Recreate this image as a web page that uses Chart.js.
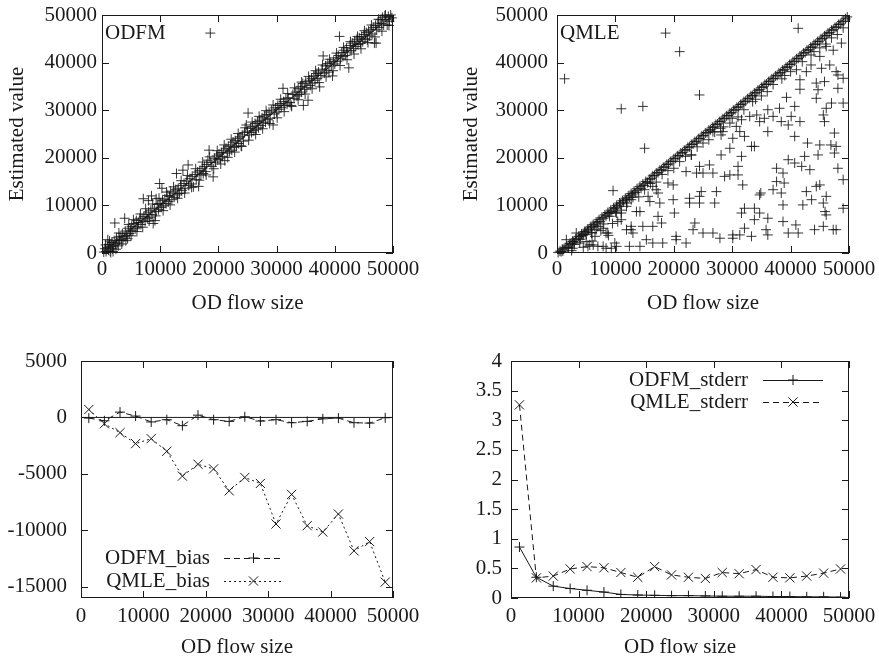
<!DOCTYPE html>
<html>
<head>
<meta charset="utf-8">
<script src="https://cdn.jsdelivr.net/npm/chart.js@4.4.1/dist/chart.umd.min.js"></script>
<style>
  html, body { margin: 0; padding: 0; background: #fff; }
  #wrap { position: relative; width: 879px; height: 658px; }
  canvas { position: absolute; }
</style>
</head>
<body>
<div id="wrap">
  <canvas id="odfmScatter" width="440" height="320" style="left:0;top:0"></canvas>
  <canvas id="qmleScatter" width="439" height="320" style="left:440px;top:0"></canvas>
  <canvas id="biasChart" width="440" height="338" style="left:0;top:320px"></canvas>
  <canvas id="stderrChart" width="439" height="338" style="left:440px;top:320px"></canvas>
</div>
<script>
// tick labels
const flowTicks = [0, 10000, 20000, 30000, 40000, 50000];
const estTicks = [0, 10000, 20000, 30000, 40000, 50000];
const biasTicks = [-15000, -10000, -5000, 0, 5000];
const stderrTicks = [0, 0.5, 1, 1.5, 2, 2.5, 3, 3.5, 4];

// binned results (bottom panels)
const binFlow = [1250, 3750, 6250, 8750, 11250, 13750, 16250, 18750, 21250, 23750,
  26250, 28750, 31250, 33750, 36250, 38750, 41250, 43750, 46250, 48750];
const odfmBias = [-60, -300, 470, 120, -400, -200, -730, 200, -200, -350,
  60, -320, -200, -470, -350, -120, -60, -470, -500, -30];
const qmleBias = [700, -560, -1350, -2320, -1880, -3000, -5200, -4150, -4560, -6500,
  -5320, -5850, -9440, -6820, -9590, -10150, -8560, -11820, -11000, -14590];
const odfmStderr = [0.86, 0.35, 0.2, 0.16, 0.13, 0.1, 0.06, 0.05, 0.045, 0.04,
  0.04, 0.035, 0.03, 0.03, 0.03, 0.025, 0.025, 0.02, 0.02, 0.015];
const qmleStderr = [3.26, 0.34, 0.37, 0.49, 0.53, 0.51, 0.43, 0.35, 0.53, 0.39,
  0.35, 0.33, 0.43, 0.41, 0.48, 0.35, 0.34, 0.37, 0.42, 0.49];

// OD flow size vs estimated value, ODFM
const odfmPoints = [
  [300,200],[500,900],[700,300],[900,1200],[1000,2800],[1100,600],[1200,1800],[1400,400],[1500,1300],[1500,100],
  [1700,2200],[1800,900],[2000,1500],[2100,2600],[2200,6300],[2300,1900],[2500,3200],[2600,2100],[2800,1500],[3000,2700],
  [3100,3500],[3300,2900],[3500,4100],[3600,2600],[3800,3400],[3900,7300],[4000,4600],[4200,3700],[4400,3000],[4500,5200],
  [4700,4100],[4900,4800],[5100,5600],[5300,4600],[5500,6200],[5700,5100],[5900,6800],[6100,5500],[6300,6400],[6500,7300],
  [6700,6000],[6900,6900],[7100,11400],[7200,7700],[7400,6600],[7600,8100],[7800,7200],[8000,8600],[8000,11000],[8200,7500],
  [8400,9000],[8500,12000],[8600,8100],[8800,6200],[9000,9400],[9100,6800],[9300,8700],[9300,11400],[9500,10200],[9700,9100],
  [9900,14600],[10000,10400],[10200,9600],[10300,13600],[10400,11000],[10600,9900],[10800,11300],[11000,10400],[11200,12100],[11400,10800],
  [11600,11900],[11800,13000],[12000,11200],[12200,12600],[12400,11700],[12600,13300],[12800,16700],[12900,12200],[13100,13600],[13300,12500],
  [13500,14200],[13700,13100],[13900,17400],[14100,14600],[14300,13500],[14500,15100],[14800,18500],[14900,14200],[15100,15600],[15300,14500],
  [15500,16100],[15700,13900],[16000,16500],[16200,15400],[16400,17000],[16600,14000],[16800,17300],[17000,16400],[17200,17800],[17400,16700],
  [17600,18200],[17800,17100],[18000,18600],[18200,19500],[18400,21600],[18600,46200],[18700,19000],[18900,18200],[19100,16000],[19300,19900],
  [19500,19100],[19700,20400],[19900,19600],[20100,20800],[20300,19800],[20500,21100],[20700,20300],[20900,21600],[21100,19400],[21300,22000],
  [21500,21000],[21700,22400],[21900,21300],[22100,22700],[22300,21600],[22500,23300],[22700,22200],[22900,23600],[23100,22400],[23300,24100],
  [23500,23000],[23700,24400],[23900,22500],[24100,24800],[24300,23500],[24500,25300],[24800,26900],[25000,25600],[25100,29400],[25300,24800],
  [25500,26200],[25700,25300],[25900,26600],[26100,25700],[26300,27200],[26500,26000],[26700,27600],[26900,26300],[27100,27900],[27300,26800],
  [27500,28400],[27700,27300],[27900,28800],[28100,27500],[28300,29100],[28500,28000],[28700,29600],[28900,28300],[29100,30000],[29400,26900],
  [29600,29200],[29800,30500],[30000,29600],[30200,31000],[30400,30200],[30600,31400],[30800,30600],[31100,34600],[31200,31800],[31400,31000],
  [31600,32400],[31800,31300],[32000,32600],[32300,31600],[32600,30800],[32800,33300],[33000,32500],[33300,33800],[33500,33000],[33700,34500],
  [33900,33300],[34100,35000],[34300,33800],[34500,35600],[34600,31000],[34800,34400],[35000,36000],[35200,34800],[35400,32100],[35600,36300],
  [35800,35200],[36000,36700],[36200,35700],[36400,37200],[36600,36300],[36800,37700],[37000,36700],[37200,38000],[37400,34900],[37600,37300],
  [37800,38600],[38000,41400],[38200,37800],[38400,39300],[38600,38400],[38800,39800],[39000,38000],[39200,40100],[39400,39300],[39600,37200],
  [39800,40300],[40000,39700],[40200,41000],[40400,40300],[40600,41500],[40800,45500],[41000,40800],[41200,42100],[41400,41300],[41600,42600],
  [41800,41500],[42000,43100],[42200,42200],[42400,38900],[42600,43600],[42800,42500],[43000,44100],[43200,43000],[43400,44500],[43600,43400],
  [43800,44900],[44000,43800],[44200,45200],[44400,44000],[44600,45500],[44800,44400],[45000,45900],[45200,45000],[45400,46300],[45600,44800],
  [45800,46600],[46000,45600],[46200,47000],[46400,46000],[46600,47400],[46800,44100],[47000,47800],[47100,44100],[47200,46900],[47400,48300],
  [47600,47400],[47800,49000],[48000,48200],[48200,49500],[48400,47900],[48600,49800],[48800,49100],[49000,47900],[49200,49700],[49400,48700],
  [49600,50000],[49800,49400],
  [600,1700],[1300,2500],[1900,300],[2400,800],[2900,4200],[3400,1900],[4100,2600],[4600,6000],[5000,3600],[5400,7000],
  [6000,4500],[6600,8200],[7000,5400],[7500,9300],[8100,6700],[8700,10300],[9200,7800],[9800,11500],[10500,8900],[11100,12800],
  [11700,10100],[12300,13900],[13000,11500],[13600,15200],[14200,12600],[14700,16300],[15400,13800],[16100,17700],[16700,15300],[17300,19100],
  [17900,16400],[18500,20200],[19200,17700],[19800,21500],[20400,18700],[21000,22700],[21600,20100],[22200,23900],[22800,21200],[23400,25100],
  [24000,22400],[24600,26300],[25200,23700],[25800,27500],[26400,24900],[27000,28700],[27600,26100],[28200,29900],[28800,27200],[29400,31100],
  [30100,28400],[30700,32300],[31300,29700],[31900,33500],[32500,31000],[33100,34700],[33700,32200],[34300,35900],[34900,33400],[35500,37100],
  [36100,34500],[36700,38300],[37300,35800],[37900,39500],[38500,37000],[39100,40700],[39700,38300],[40300,42000],[40900,39400],[41500,43200],
  [42100,40600],[42700,44400],[43300,41800],[43900,45500],[44500,42900],[45100,46700],[45700,44200],[46300,47900],[46900,45400],[47500,49100],
  [48100,46600],[48700,50000],[49300,47800]
];

// OD flow size vs estimated value, QMLE
const qmlePoints = [
  // band along the diagonal
  [200,100],[500,400],[700,300],[900,800],[1200,900],[1400,1100],[1700,1500],[1900,1200],[2200,2000],[2400,1900],
  [2700,2500],[2900,2300],[3200,3000],[3400,2800],[3700,3500],[3900,3400],[4200,4000],[4400,3700],[4700,4500],[4900,4400],
  [5200,5000],[5400,4800],[5700,5500],[5900,5300],[6200,6000],[6400,5700],[6700,6500],[6900,6300],[7200,7000],[7400,6600],
  [7700,7500],[7900,7300],[8200,8000],[8400,7800],[8700,8500],[8900,8300],[9200,9000],[9400,8700],[9700,9500],[9900,9300],
  [10200,10000],[10400,9700],[10700,10500],[10900,10300],[11200,11000],[11400,10700],[11700,11500],[11900,11200],[12200,12000],[12400,11700],
  [12700,12500],[12900,12200],[13200,13000],[13400,12700],[13700,13500],[13900,13200],[14200,14000],[14400,13600],[14700,14500],[14900,14200],
  [15200,15000],[15500,14800],[15800,15500],[16100,15700],[16400,16200],[16700,16300],[17000,16800],[17300,16900],[17600,17400],[17900,17500],
  [18200,18000],[18500,18100],[18800,18600],[19100,18700],[19400,19200],[19700,19300],[20000,19800],[20300,19900],[20600,20400],[20900,20500],
  [21200,21000],[21500,21100],[21800,21600],[22100,21700],[22400,22200],[22700,22300],[23000,22800],[23300,22900],[23600,23400],[23900,23500],
  [24200,24000],[24500,24100],[24800,24600],[25100,24700],[25400,25200],[25700,25300],[26000,25800],[26300,25900],[26600,26400],[26900,26500],
  [27200,27000],[27500,27100],[27800,27600],[28100,27700],[28400,28200],[28700,28300],[29000,28800],[29300,28900],[29600,29400],[29900,29500],
  [30200,30000],[30500,30100],[30800,30600],[31100,30700],[31400,31200],[31700,31300],[32000,31800],[32300,31900],[32600,32400],[32900,32500],
  [33200,33000],[33500,33100],[33800,33600],[34100,33700],[34400,34200],[34700,34300],[35000,34800],[35300,34900],[35600,35400],[35900,35500],
  [36200,36000],[36500,36100],[36800,36600],[37100,36700],[37400,37200],[37700,37300],[38000,37800],[38300,37900],[38600,38400],[38900,38500],
  [39200,39000],[39500,39100],[39800,39600],[40100,39700],[40400,40200],[40700,40300],[41000,40800],[41300,40900],[41600,41400],[41900,41500],
  [42200,42000],[42500,42100],[42800,42600],[43100,42700],[43400,43200],[43700,43300],[44000,43800],[44300,43900],[44600,44400],[44900,44500],
  [45200,45000],[45500,45100],[45800,45600],[46100,45700],[46400,46200],[46700,46300],[47000,46800],[47300,46900],[47600,47400],[47900,47500],
  [48200,48000],[48500,48100],[48800,48600],[49100,48700],[49400,49200],[49700,49600],
  [3000,1800],[6000,4300],[8000,6100],[11000,9000],[14000,11800],[17000,14900],[20000,17800],[23000,20600],[26000,23800],[28500,26500],
  [31000,28600],[33500,31800],[36000,33900],[38500,36600],[41000,38500],[43500,41600],[46000,43900],[48000,45900],
  [1000,400],[2000,1100],[4000,2900],[5000,3900],[7000,5600],[9000,7700],[10000,8600],[12000,10500],[13000,11700],[15000,13300],
  [16000,14600],[18000,16500],[19000,17300],[21000,19200],[22000,20300],[24000,22300],[25000,23100],[27000,25400],[28000,26200],[30000,28300],
  [32000,30100],[34000,32300],[35000,33000],[37000,35400],[39000,37300],[40000,38100],[42000,40200],[44000,42300],[45000,43100],[47000,45200],
  [49000,47300],[2500,500],[4500,1200],[6500,3500],[7500,4700],[9500,6200],[8800,3700],[6000,2500],
  // outliers above the diagonal
  [1300,36600],[9600,13100],[11000,30300],[14700,30800],[15000,22000],[18600,46200],[21000,42300],[24400,33200],[41300,47200],
  // spread below the diagonal
  [46100,43400],[48700,44100],[47300,42600],[45000,41300],[43500,39500],[42700,38100],[45300,38800],[46700,39500],[48100,37400],[49000,36700],
  [47800,38100],[41600,36400],[44400,35700],[45800,36000],[44700,34300],[48100,34600],[44400,32500],[39300,32700],[41600,34400],[47000,31500],
  [49000,31500],[46100,30400],[45600,29000],[38100,30400],[40700,30800],[40100,28700],[41600,27600],[37000,28700],[36100,30100],[38400,27600],
  [39600,26900],[45800,27600],[36100,25500],[40700,24500],[47500,25200],[46900,22700],[42900,23100],[45000,22700],[47800,22400],[47500,21000],
  [44700,20600],[42400,20300],[39600,19600],[40700,18900],[41900,18200],[43300,17500],[37600,17800],[38700,16800],[48100,17800],[49000,15400],
  [45000,14300],[46100,11900],[44400,14000],[42700,12900],[43600,11200],[45600,10500],[42100,10100],[45900,8700],[46100,8000],[49000,9400],
  [38700,10100],[38400,12600],[37000,13300],[34900,12600],[38700,6600],[40900,5900],[41300,4200],[44100,4900],[45600,5600],[47300,4900],
  [47800,4900],[36100,7300],[36100,3800],[35800,4900],[33800,9400],[31600,8400],[32100,9400],[32100,5200],[33300,3500],[30100,3800],
  [30100,3100],[31300,3800],[27900,3100],[26700,4200],[25000,4200],[23600,6300],[23300,4900],[22100,2100],[20400,2800],[20400,3500],
  [18100,2100],[16400,2100],[15300,2800],[14200,1400],[12400,1400],[10200,1400],[8400,1000],[7000,1400],[5600,1700],[3900,2100],
  [2700,2400],[9900,2100],[8700,4200],[10400,6600],[11000,7000],[12700,5600],[12700,4900],[14200,8700],[14700,5600],[16400,5600],
  [17300,12600],[17600,10500],[17300,7700],[17900,6300],[19000,14700],[19900,14300],[19900,11200],[20100,8400],[16400,14000],[22100,17100],
  [23900,16800],[24400,11900],[22700,11500],[22700,10500],[24400,10500],[24700,12900],[25000,16800],[24400,18200],[26100,18500],[26700,16800],
  [27300,12900],[27000,10500],[28100,20600],[29600,22000],[28700,16100],[29600,16400],[31000,18200],[31000,16400],[31600,20300],[31800,14300],
  [31300,25500],[32100,24500],[30100,24100],[33300,22400],[33800,22400],[33000,28700],[34200,29000],[34700,27600],[35500,28300],[29600,27300],
  [30700,26600],[31600,28000],[34700,12200],[33800,7000],[34700,8400],[39600,4200],[37600,15000],[38900,14700],[23000,20600],[26700,25500],
  [28400,25500],[28100,24800],[1600,2800],[2700,1000],[3300,4200],[4500,3800],[5900,4200],[6700,4900],[7900,5200],[8400,4200],
  [5300,1400],[5000,2400],[6200,1700],[7900,1400],[9300,1000],[11900,4900],[13000,4200],[13600,8700],[11900,9800],[12700,11200],
  [11000,8400],[10200,8400],[15600,11900],[15900,10800],[17000,13300]
];

Chart.defaults.font.family = "'Liberation Serif', 'DejaVu Serif', serif";
Chart.defaults.color = '#111';

const ink = '#1a1a1a';

// gnuplot-like frame: border, inward ticks on all sides, plot label and key
const gnuFrame = {
  id: 'gnuFrame',
  afterDatasetsDraw(chart, args, opts) {
    const { ctx, chartArea: a } = chart;
    const sx = chart.scales.x, sy = chart.scales.y;
    ctx.save();
    ctx.strokeStyle = ink;
    ctx.lineWidth = 1;
    ctx.setLineDash([]);
    ctx.strokeRect(Math.round(a.left) + 0.5, Math.round(a.top) + 0.5,
      Math.round(a.right - a.left) - 1, Math.round(a.bottom - a.top) - 1);
    const len = 7;
    ctx.beginPath();
    sx.ticks.forEach(t => {
      const p = Math.round(sx.getPixelForValue(t.value)) + 0.5;
      ctx.moveTo(p, a.bottom); ctx.lineTo(p, a.bottom - len);
      ctx.moveTo(p, a.top); ctx.lineTo(p, a.top + len);
    });
    sy.ticks.forEach(t => {
      const p = Math.round(sy.getPixelForValue(t.value)) + 0.5;
      ctx.moveTo(a.left, p); ctx.lineTo(a.left + len, p);
      ctx.moveTo(a.right, p); ctx.lineTo(a.right - len, p);
    });
    ctx.stroke();

    ctx.fillStyle = ink;
    ctx.font = "21px 'Liberation Serif', serif";
    ctx.textBaseline = 'middle';
    if (opts.label) {
      ctx.textAlign = 'left';
      ctx.fillText(opts.label, a.left + 3, a.top + 18);
    }
    (opts.key || []).forEach(k => {
      const ds = chart.data.datasets[k.ds];
      ctx.textAlign = 'right';
      ctx.fillText(ds.label, k.textRight, k.y);
      ctx.beginPath();
      ctx.setLineDash(ds.borderDash || []);
      ctx.moveTo(k.x0, k.y + 0.5);
      ctx.lineTo(k.x1, k.y + 0.5);
      ctx.stroke();
      ctx.setLineDash([]);
      Chart.helpers.drawPoint(ctx, {
        pointStyle: ds.pointStyle, radius: ds.pointRadius, rotation: 0, borderWidth: 1
      }, (k.x0 + k.x1) / 2, k.y);
    });
    ctx.restore();
  }
};

function axis(tickVals, min, max, o) {
  return {
    type: 'linear',
    min: min,
    max: max,
    afterBuildTicks: s => { s.ticks = tickVals.map(v => ({ value: v })); },
    grid: { display: false, drawTicks: false },
    border: { display: false },
    ticks: {
      padding: o.pad, autoSkip: false, maxRotation: 0,
      font: { size: 21 }, color: ink,
      callback: v => String(v)
    },
    title: o.title ? {
      display: true, text: o.title, color: ink,
      font: { size: 21, lineHeight: 1 },
      padding: o.horiz ? { top: 0, bottom: o.tpad } : { top: o.tpad, bottom: 0 }
    } : { display: false },
    afterFit: s => {
      if (o.horiz) s.height = o.size; else s.width = o.size;
      s.paddingLeft = 0; s.paddingRight = 0; s.paddingTop = 0; s.paddingBottom = 0;
    }
  };
}

function xy(xs, ys) { return xs.map((x, i) => ({ x: x, y: ys[i] })); }

function scatterPanel(id, points, label, layout) {
  const diag = [{ x: flowTicks[0], y: estTicks[0] },
    { x: flowTicks[flowTicks.length - 1], y: estTicks[estTicks.length - 1] }];
  return new Chart(document.getElementById(id), {
    type: 'scatter',
    data: {
      datasets: [{
        label: 'y=x',
        data: diag,
        showLine: true, pointRadius: 0, borderColor: ink, borderWidth: 1
      }, {
        label: label,
        data: points.map(p => ({ x: p[0], y: p[1] })),
        pointStyle: 'cross', pointRadius: 5, borderWidth: 1,
        borderColor: 'rgba(20,20,20,0.85)', clip: false
      }]
    },
    options: {
      responsive: false, animation: false, events: [],
      layout: { padding: { top: layout.top, right: layout.right, left: 0, bottom: 0 } },
      scales: {
        x: axis(flowTicks, 0, 50000, { horiz: true, size: layout.xh, pad: 4, title: 'OD flow size', tpad: 6 }),
        y: axis(estTicks, 0, 50000, { horiz: false, size: layout.yw, pad: layout.ypad, title: 'Estimated value', tpad: layout.ytpad })
      },
      plugins: { legend: { display: false }, tooltip: { enabled: false }, gnuFrame: { label: label } }
    },
    plugins: [gnuFrame]
  });
}

scatterPanel('odfmScatter', odfmPoints, 'ODFM', { top: 15, right: 47, xh: 67, yw: 102, ypad: 5, ytpad: 7 });
scatterPanel('qmleScatter', qmlePoints, 'QMLE', { top: 15, right: 30, xh: 67, yw: 117, ypad: 9, ytpad: 21 });

new Chart(document.getElementById('biasChart'), {
  type: 'scatter',
  data: {
    datasets: [{
      label: 'zero',
      data: [{ x: flowTicks[0], y: 0 }, { x: flowTicks[flowTicks.length - 1], y: 0 }],
      showLine: true, pointRadius: 0, borderColor: ink, borderWidth: 1
    }, {
      label: 'ODFM_bias',
      data: xy(binFlow, odfmBias),
      showLine: true, borderDash: [6, 4], borderColor: ink, borderWidth: 1,
      pointStyle: 'cross', pointRadius: 5, pointBorderColor: ink, pointBorderWidth: 1
    }, {
      label: 'QMLE_bias',
      data: xy(binFlow, qmleBias),
      showLine: true, borderDash: [2, 3], borderColor: ink, borderWidth: 1,
      pointStyle: 'crossRot', pointRadius: 6.5, pointBorderColor: ink, pointBorderWidth: 1
    }]
  },
  options: {
    responsive: false, animation: false, events: [],
    layout: { padding: { top: 41, right: 47, left: 0, bottom: 0 } },
    scales: {
      x: axis(flowTicks, 0, 50000, { horiz: true, size: 60, pad: 6, title: 'OD flow size', tpad: 0 }),
      y: axis(biasTicks, -16000, 5000, { horiz: false, size: 81, pad: 14 })
    },
    plugins: {
      legend: { display: false }, tooltip: { enabled: false },
      gnuFrame: { key: [
        { ds: 1, textRight: 210, x0: 224, x1: 283, y: 238 },
        { ds: 2, textRight: 210, x0: 224, x1: 283, y: 261 }
      ] }
    }
  },
  plugins: [gnuFrame]
});

new Chart(document.getElementById('stderrChart'), {
  type: 'scatter',
  data: {
    datasets: [{
      label: 'ODFM_stderr',
      data: xy(binFlow, odfmStderr),
      showLine: true, borderColor: ink, borderWidth: 1,
      pointStyle: 'cross', pointRadius: 5, pointBorderColor: ink, pointBorderWidth: 1
    }, {
      label: 'QMLE_stderr',
      data: xy(binFlow, qmleStderr),
      showLine: true, borderDash: [6, 4], borderColor: ink, borderWidth: 1,
      pointStyle: 'crossRot', pointRadius: 6.5, pointBorderColor: ink, pointBorderWidth: 1
    }]
  },
  options: {
    responsive: false, animation: false, events: [],
    layout: { padding: { top: 41, right: 30, left: 0, bottom: 0 } },
    scales: {
      x: axis(flowTicks, 0, 50000, { horiz: true, size: 60, pad: 6, title: 'OD flow size', tpad: 0 }),
      y: axis(stderrTicks, 0, 4, { horiz: false, size: 71, pad: 9 })
    },
    plugins: {
      legend: { display: false }, tooltip: { enabled: false },
      gnuFrame: { key: [
        { ds: 0, textRight: 308, x0: 323, x1: 383, y: 60 },
        { ds: 1, textRight: 308, x0: 323, x1: 383, y: 82 }
      ] }
    }
  },
  plugins: [gnuFrame]
});
</script>
</body>
</html>
